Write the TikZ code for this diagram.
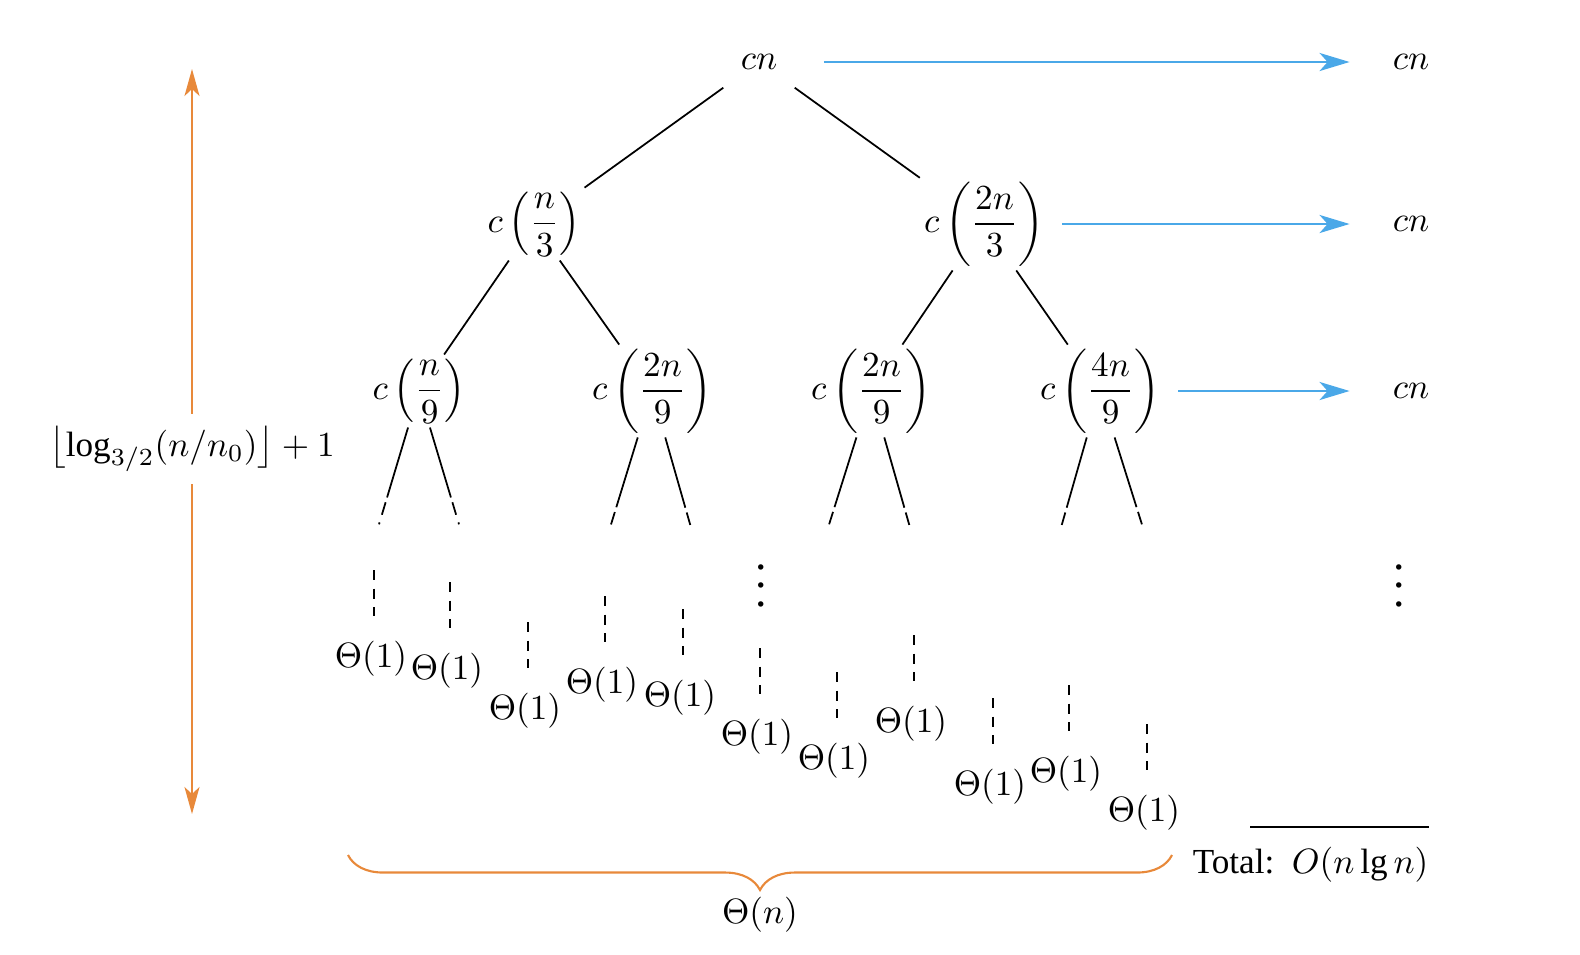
\documentclass[tikz,border=0pt]{standalone}
\usepackage{amsmath}
\usepackage{fontspec}
\setmainfont{Liberation Serif}
\usetikzlibrary{positioning,arrows.meta,calc,decorations.pathreplacing}
\definecolor{sumblue}{HTML}{4AA8E8}
\definecolor{depthorange}{HTML}{E8893A}

\begin{document}
\begin{tikzpicture}[x=0.01cm,y=-0.01cm,
  tnode/.style={inner sep=1pt},
  leaf/.style={inner sep=1pt},
  edge/.style={line width=0.5pt},
  subedge/.style={line width=0.5pt,dash pattern=on 0.73cm off 0.05cm on 0.13cm off 0.08cm on 0.02cm},
  leafdash/.style={line width=0.5pt,dash pattern=on 0.1cm off 0.085cm,shorten >=0.21cm},
  sumarrow/.style={draw=sumblue,line width=0.8pt,-{Stealth[length=0.3cm,width=0.18cm,inset=0.08cm]},shorten <=0.14cm,shorten >=0.39cm},
  deptharrow/.style={draw=depthorange,line width=0.6pt,-{Stealth[length=0.27cm,width=0.15cm,inset=0.07cm]}}]
\useasboundingbox (0,0) rectangle (1580,954);
% the tree
\node[tnode,minimum width=0.9cm,minimum height=0.5cm] (root) at (759,62) {$cn$};
\node[tnode] (l1a) at (534,224) {$c\left(\dfrac{n}{3}\right)$};
\node[tnode] (l1b) at (984,224) {$c\left(\dfrac{2n}{3}\right)$};
\node[tnode] (l2a) at (419,391) {$c\left(\dfrac{n}{9}\right)$};
\node[tnode] (l2b) at (652,391) {$c\left(\dfrac{2n}{9}\right)$};
\node[tnode] (l2c) at (871,391) {$c\left(\dfrac{2n}{9}\right)$};
\node[tnode] (l2d) at (1100,391) {$c\left(\dfrac{4n}{9}\right)$};
\draw[edge] (root) -- (l1a);
\draw[edge] (root) -- (l1b);
\draw[edge] (l1a) -- (l2a);
\draw[edge] (l1a) -- (l2b);
\draw[edge] (l1b) -- (l2c);
\draw[edge] (l1b) -- (l2d);
\foreach \n/\xl/\xr in {l2a/377/461,l2b/609/692,l2c/827/911,l2d/1060/1144}{
  \coordinate (\n-l) at (\xl,531);
  \coordinate (\n-r) at (\xr,531);
  \draw[subedge] (\n) -- (\n-l);
  \draw[subedge] (\n) -- (\n-r);
}
% leaves
\foreach \x/\y [count=\i] in {374/570,450/582,528/622,605/596,683/609,760/648,837/672,914/635,993/698,1069/685,1147/724}{
  \coordinate (t\i) at (\x,\y);
  \node[leaf] (lf\i) at (\x-3,\y+89) {$\Theta(1)$};
  \draw[leafdash] (t\i) -- (t\i |- lf\i.north);
}
\node[scale=1.3] (vd1) at (761,572) {$\vdots$};
\node[scale=1.3] (vd2) at (1399,572) {$\vdots$};
% level sums
\node[tnode] (s0) at (1411,62) {$cn$};
\node[tnode] (s1) at (1411,224) {$cn$};
\node[tnode] (s2) at (1411,391) {$cn$};
\draw[sumarrow,shorten <=0.19cm] (root) -- (s0);
\draw[sumarrow] (l1b) -- (s1);
\draw[sumarrow] (l2d) -- (s2);
\coordinate (rulel) at (1250,827);
\coordinate (ruler) at (1429,827);
\draw[line width=0.5pt] (rulel) -- (ruler);
\node[anchor=east,inner sep=0pt] (total) at (1429,865) {Total:\enspace$O(n\lg n)$};
% height
\node (depth) at (192,449) {$\bigl\lfloor\log_{3/2}(n/n_0)\bigr\rfloor+1$};
\coordinate (dtop) at (192,69);
\coordinate (dbot) at (192,814);
\draw[deptharrow] (depth.north) -- (dtop);
\draw[deptharrow] (depth.south) -- (dbot);
% width
\coordinate (bl) at (348,855);
\coordinate (br) at (1172,855);
\draw[depthorange,line width=0.6pt,decorate,decoration={brace,amplitude=0.35cm}] (br) -- (bl);
\node (width) at (760,915) {$\Theta(n)$};
\end{tikzpicture}
\end{document}
